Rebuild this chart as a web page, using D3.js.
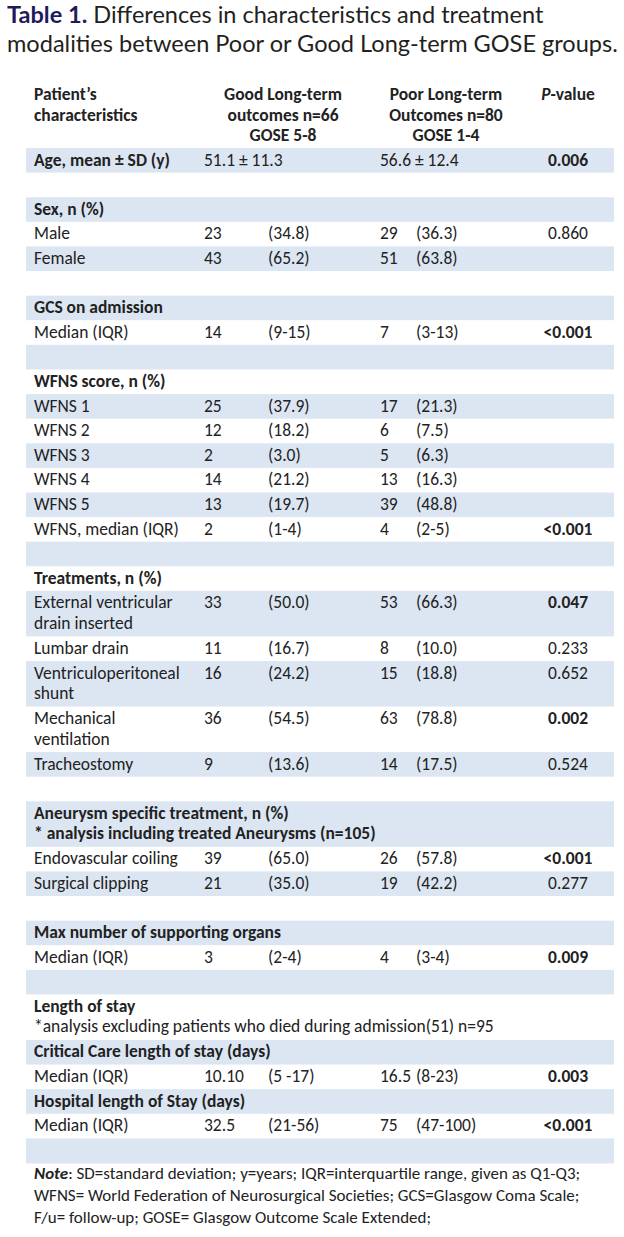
<!DOCTYPE html>
<html>
<head>
<meta charset="utf-8">
<script src="https://cdn.jsdelivr.net/npm/d3@7"></script>
<style>
    body { margin: 0; background: #fff; }
    svg text { font-family: Carlito, Lato, "Open Sans", sans-serif; fill: #222; }
    svg .title { font-family: "Gill Sans", Lato, sans-serif; fill: #231f20; }
</style>
</head>
<body>
<div id="chart-area"></div>
<script>
const titleLead = "Table 1.";
const titleLines = ["Differences in characteristics and treatment",
    "modalities between Poor or Good Long-term GOSE groups."];

const headerLabel = ["Patient’s", "characteristics"];
const headerGood = ["Good Long-term", "outcomes n=66", "GOSE 5-8"];
const headerPoor = ["Poor Long-term", "Outcomes n=80", "GOSE 1-4"];
const headerP = "-value";

// one entry per table row; "" = empty cell
const rowKinds = ["section", "blank", "section", "item", "item", "blank",
    "section", "item", "blank", "section", "item", "item", "item", "item", "item", "item", "blank",
    "section", "item", "item", "item", "item", "item", "blank",
    "section", "item", "item", "blank", "section", "item", "blank",
    "section", "section", "item", "section", "item", "blank"];

const rowLabels = [["Age, mean ± SD (y)"], [], ["Sex, n (%)"], ["Male"], ["Female"], [],
    ["GCS on admission"], ["Median (IQR)"], [], ["WFNS score, n (%)"],
    ["WFNS 1"], ["WFNS 2"], ["WFNS 3"], ["WFNS 4"], ["WFNS 5"], ["WFNS, median (IQR)"], [],
    ["Treatments, n (%)"], ["External ventricular", "drain inserted"], ["Lumbar drain"],
    ["Ventriculoperitoneal", "shunt"], ["Mechanical", "ventilation"], ["Tracheostomy"], [],
    ["Aneurysm specific treatment, n (%)", "* analysis including treated Aneurysms (n=105)"],
    ["Endovascular coiling"], ["Surgical clipping"], [],
    ["Max number of supporting organs"], ["Median (IQR)"], [],
    ["Length of stay"], ["Critical Care length of stay (days)"], ["Median (IQR)"],
    ["Hospital length of Stay (days)"], ["Median (IQR)"], []];

const rowNotes = ["", "", "", "", "", "", "", "", "", "", "", "", "", "", "", "", "",
    "", "", "", "", "", "", "", "", "", "", "", "", "", "",
    "*analysis excluding patients who died during admission(51) n=95", "", "", "", "", ""];

const goodN = ["51.1 ± 11.3", "", "", "23", "43", "", "", "14", "", "",
    "25", "12", "2", "14", "13", "2", "", "", "33", "11", "16", "36", "9", "",
    "", "39", "21", "", "", "3", "", "", "", "10.10", "", "32.5", ""];
const goodPct = ["", "", "", "(34.8)", "(65.2)", "", "", "(9-15)", "", "",
    "(37.9)", "(18.2)", "(3.0)", "(21.2)", "(19.7)", "(1-4)", "", "", "(50.0)", "(16.7)", "(24.2)", "(54.5)", "(13.6)", "",
    "", "(65.0)", "(35.0)", "", "", "(2-4)", "", "", "", "(5 -17)", "", "(21-56)", ""];
const poorN = ["56.6 ± 12.4", "", "", "29", "51", "", "", "7", "", "",
    "17", "6", "5", "13", "39", "4", "", "", "53", "8", "15", "63", "14", "",
    "", "26", "19", "", "", "4", "", "", "", "16.5", "", "75", ""];
const poorPct = ["", "", "", "(36.3)", "(63.8)", "", "", "(3-13)", "", "",
    "(21.3)", "(7.5)", "(6.3)", "(16.3)", "(48.8)", "(2-5)", "", "", "(66.3)", "(10.0)", "(18.8)", "(78.8)", "(17.5)", "",
    "", "(57.8)", "(42.2)", "", "", "(3-4)", "", "", "", "(8-23)", "", "(47-100)", ""];
const pValues = ["0.006", "", "", "0.860", "", "", "", "<0.001", "", "",
    "", "", "", "", "", "<0.001", "", "", "0.047", "0.233", "0.652", "0.002", "0.524", "",
    "", "<0.001", "0.277", "", "", "0.009", "", "", "", "0.003", "", "<0.001", ""];

const noteLines = [": SD=standard deviation; y=years; IQR=interquartile range, given as Q1-Q3;",
    "WFNS= World Federation of Neurosurgical Societies; GCS=Glasgow Coma Scale;",
    "F/u= follow-up; GOSE= Glasgow Outcome Scale Extended;"];

const isSignificant = p => p.startsWith("<") || (p !== "" && +p < 0.05);

const drawTable = () => {
    const size = { width: 624, height: 1237 };
    const svg = d3.select("#chart-area").append("svg")
        .attr("width", size.width)
        .attr("height", size.height);

    // size fonts so the measured text spans what the original shows
    const measure = (str, fs, weight, cls) => {
        const t = svg.append("text").attr("class", cls || null)
            .style("font-size", fs + "px").style("font-weight", weight).text(str);
        const w = t.node().getComputedTextLength();
        t.remove();
        return w;
    };
    const titleSize = 24 * 611 / measure(titleLines[1], 24, "normal", "title");
    const fs = 15 * 460 / measure(rowNotes[31], 15, "normal");

    const title = svg.append("text").attr("class", "title")
        .attr("x", 7).attr("y", 23).style("font-size", titleSize + "px");
    title.append("tspan").text(titleLead).style("font-weight", "bold").style("fill", "#1e1b5c");
    title.append("tspan").text(" " + titleLines[0]);
    svg.append("text").attr("class", "title")
        .attr("x", 7).attr("y", 52).style("font-size", titleSize + "px")
        .text(titleLines[1]);

    const col = d3.scaleOrdinal()
        .domain(["label", "goodN", "goodPct", "poorN", "poorPct", "p", "goodHead", "poorHead"])
        .range([34, 204, 268, 380, 416, 568, 283, 446]);

    // header
    const head = svg.append("g").style("font-size", fs + "px").style("font-weight", "bold");
    const headY = d3.scalePoint().domain([0, 1, 2]).range([100, 141]);
    headerLabel.forEach((s, i) => head.append("text").attr("x", col("label")).attr("y", headY(i)).text(s));
    headerGood.forEach((s, i) => head.append("text").attr("x", col("goodHead")).attr("y", headY(i))
        .attr("text-anchor", "middle").text(s));
    headerPoor.forEach((s, i) => head.append("text").attr("x", col("poorHead")).attr("y", headY(i))
        .attr("text-anchor", "middle").text(s));
    const ph = head.append("text").attr("x", col("p")).attr("y", headY(0)).attr("text-anchor", "middle");
    ph.append("tspan").text("P").style("font-style", "italic");
    ph.append("tspan").text(headerP);

    // rows: two-line rows take a bit less than two single heights
    const units = rowLabels.map((l, i) => (l.length + (rowNotes[i] ? 1 : 0)) > 1 ? 1.85 : 1);
    const starts = [0, ...d3.cumsum(units)];
    const y = d3.scaleLinear().domain([0, d3.sum(units)]).range([148, 1163]);

    const rows = svg.append("g").style("font-size", fs + "px")
        .selectAll("g").data(rowKinds).join("g")
        .attr("transform", (d, i) => `translate(0, ${y(starts[i])})`);

    rows.append("rect")
        .attr("x", 26)
        .attr("width", 588)
        .attr("height", (d, i) => y(starts[i + 1]) - y(starts[i]) + 0.5)
        .attr("fill", (d, i) => i % 2 === 0 ? "#dce6f2" : "#fff");

    rows.each(function (kind, i) {
        const g = d3.select(this);
        rowLabels[i].forEach((s, j) => g.append("text")
            .attr("x", col("label")).attr("y", 17.5 + j * 20.5)
            .style("font-weight", kind === "section" ? "bold" : "normal")
            .text(s));
        if (rowNotes[i]) {
            g.append("text").attr("x", col("label")).attr("y", 17.5 + 20.5).text(rowNotes[i]);
        }
        [["goodN", goodN], ["goodPct", goodPct], ["poorN", poorN], ["poorPct", poorPct]].forEach(([c, arr]) => {
            if (arr[i]) g.append("text").attr("x", col(c)).attr("y", 17.5).text(arr[i]);
        });
        if (pValues[i]) {
            g.append("text").attr("x", col("p")).attr("y", 17.5)
                .attr("text-anchor", "middle")
                .style("font-weight", isSignificant(pValues[i]) ? "bold" : "normal")
                .text(pValues[i]);
        }
    });

    // footnote: spread the lines a little so they do not collide
    const noteY = d3.scalePoint().domain([0, 1, 2]).range([1179, 1223]);
    const notes = svg.append("g").style("font-size", (fs * 0.97) + "px");
    noteLines.forEach((s, i) => {
        const t = notes.append("text").attr("x", col("label")).attr("y", noteY(i));
        if (i === 0) t.append("tspan").text("Note").style("font-weight", "bold").style("font-style", "italic");
        t.append("tspan").text(s);
    });
};

window.onload = drawTable;
</script>
</body>
</html>
